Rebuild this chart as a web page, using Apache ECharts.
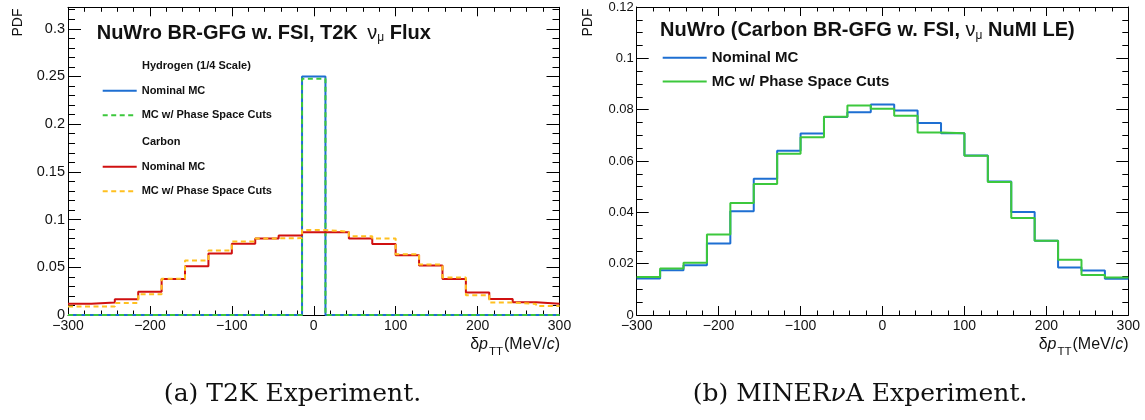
<!DOCTYPE html>
<html>
<head>
<meta charset="utf-8">
<script src="https://cdn.jsdelivr.net/npm/echarts@6/dist/echarts.min.js"></script>
<style>
  html, body { margin: 0; padding: 0; background: #ffffff; }
  #chart { width: 1145px; height: 420px; }
</style>
</head>
<body>
<div id="chart"></div>
<script>
// δp_TT histograms: 21 equal bins over [-300, 300] MeV/c
const xRange = [-300, 300];

// T2K flux, NuWro BR-GFG with FSI
const t2kHydrogenNominal = [0, 0, 0, 0, 0, 0, 0, 0, 0, 0, 0.2500, 0, 0, 0, 0, 0, 0, 0, 0, 0, 0];
const t2kHydrogenCuts    = [0, 0, 0, 0, 0, 0, 0, 0, 0, 0, 0.2475, 0, 0, 0, 0, 0, 0, 0, 0, 0, 0];
const t2kCarbonNominal = [0.0119, 0.0130, 0.0166, 0.0243, 0.0377, 0.0510, 0.0644, 0.0746, 0.0803, 0.0834, 0.0866,
                          0.0866, 0.0803, 0.0745, 0.0627, 0.0518, 0.0377, 0.0236, 0.0169, 0.0134, 0.0119];
const t2kCarbonCuts    = [0.0088, 0.0088, 0.0127, 0.0218, 0.0380, 0.0570, 0.0676, 0.0771, 0.0803, 0.0806, 0.0890,
                          0.0873, 0.0825, 0.0803, 0.0638, 0.0530, 0.0394, 0.0208, 0.0130, 0.0116, 0.0095];

// NuMI LE flux, carbon
const minervaNominal = [0.0142, 0.0174, 0.0194, 0.0279, 0.0404, 0.0531, 0.0640, 0.0707, 0.0771, 0.0790, 0.0820,
                        0.0797, 0.0748, 0.0708, 0.0621, 0.0520, 0.0401, 0.0289, 0.0185, 0.0173, 0.0141];
const minervaCuts    = [0.0148, 0.0181, 0.0204, 0.0314, 0.0436, 0.0510, 0.0628, 0.0693, 0.0772, 0.0816, 0.0804,
                        0.0776, 0.0711, 0.0708, 0.0620, 0.0518, 0.0378, 0.0289, 0.0215, 0.0156, 0.0146];

const SANS = '"Liberation Sans", Arial, Helvetica, sans-serif';
const SERIF = '"DejaVu Serif", serif';
const INK = '#111111';
const BLUE = '#1e6fd2';
const GREEN = '#3cc83c';
const RED = '#d01010';
const ORANGE = '#ffc020';

// bin left edges plus the closing edge, drawn as a step outline
function histPoints(vals) {
  const w = (xRange[1] - xRange[0]) / vals.length;
  const pts = vals.map((v, i) => [xRange[0] + i * w, v]);
  pts.push([xRange[1], vals[vals.length - 1]]);
  return pts;
}

const minus = v => String(v).replace('-', '\u2212');
const blackLine = { color: '#000', width: 1 };

function xAxes(gridIndex, fontSize) {
  const base = {
    type: 'value', gridIndex, min: xRange[0], max: xRange[1], interval: 100,
    axisLine: { show: true, onZero: false, lineStyle: blackLine },
    axisTick: { show: true, inside: true, length: 9, lineStyle: blackLine },
    minorTick: { show: true, splitNumber: 5, length: 4.5, lineStyle: blackLine },
    splitLine: { show: false }, minorSplitLine: { show: false }
  };
  return [
    Object.assign({}, base, {
      position: 'bottom',
      axisLabel: { show: true, fontFamily: SANS, fontSize, color: INK, margin: 4, formatter: minus }
    }),
    Object.assign({}, base, { position: 'top', axisLabel: { show: false } })
  ];
}

function yAxis(gridIndex, position, max, interval, tickLen, labelSize, showLine) {
  return {
    type: 'value', gridIndex, position, min: 0, max, interval,
    axisLine: { show: showLine, onZero: false, lineStyle: blackLine },
    axisTick: { show: true, inside: true, length: tickLen, lineStyle: blackLine },
    splitLine: { show: false },
    axisLabel: labelSize ? {
      show: true, fontFamily: SANS, fontSize: labelSize, color: INK, margin: 3,
      showMaxLabel: max % interval < 1e-9 || interval - (max % interval) < 1e-9,
      formatter: v => (v === 0 ? '0' : String(+v.toFixed(3)))
    } : { show: false }
  };
}

function histSeries(name, vals, color, dashed, xi, yi, z) {
  return {
    type: 'line', name, data: histPoints(vals), xAxisIndex: xi, yAxisIndex: yi,
    step: 'end', symbol: 'none', showSymbol: false, silent: true, animation: false, z,
    lineStyle: { color, width: 2, type: dashed ? [5, 3.5] : 'solid' },
    itemStyle: { color }
  };
}

const T2K_YMAX = 0.3225;
const MINERVA_YMAX = 0.12;

const chart = echarts.init(document.getElementById('chart'), null, { renderer: 'canvas' });

const legendText = (size) => ({ fontFamily: SANS, fontWeight: 'bold', fontSize: size, color: INK, lineHeight: 14 });
const stripPrefix = name => name.replace(/^[A-Z]+ /, '');
// legend keys are plain line samples, no marker
const legendBase = {
  orient: 'vertical', padding: 0, itemHeight: 14, selectedMode: false,
  itemStyle: { opacity: 0, borderWidth: 0 }, formatter: stripPrefix
};

chart.setOption({
  animation: false,
  backgroundColor: '#ffffff',
  grid: [
    { left: 68, right: 585.5, top: 7.3, bottom: 105, containLabel: false },
    { left: 636.7, right: 16.7, top: 7, bottom: 105, containLabel: false }
  ],
  xAxis: [].concat(xAxes(0, 14), xAxes(1, 14)),
  yAxis: [
    yAxis(0, 'left', T2K_YMAX, 0.05, 13, 14.5, true),
    yAxis(0, 'left', T2K_YMAX, 0.01, 7, 0, false),
    yAxis(0, 'right', T2K_YMAX, 0.05, 13, 0, true),
    yAxis(0, 'right', T2K_YMAX, 0.01, 7, 0, false),
    yAxis(1, 'left', MINERVA_YMAX, 0.02, 12, 13, true),
    yAxis(1, 'left', MINERVA_YMAX, 0.005, 6, 0, false),
    yAxis(1, 'right', MINERVA_YMAX, 0.02, 12, 0, true),
    yAxis(1, 'right', MINERVA_YMAX, 0.005, 6, 0, false)
  ],
  legend: [
    Object.assign({}, legendBase, {
      data: ['H Nominal MC', 'H MC w/ Phase Space Cuts'],
      left: 101.7, top: 83.7, itemGap: 10.6, itemWidth: 34, textStyle: legendText(11)
    }),
    Object.assign({}, legendBase, {
      data: ['C Nominal MC', 'C MC w/ Phase Space Cuts'],
      left: 101.7, top: 159.7, itemGap: 10.6, itemWidth: 34, textStyle: legendText(11)
    }),
    Object.assign({}, legendBase, {
      data: ['N Nominal MC', 'N MC w/ Phase Space Cuts'],
      left: 661.7, top: 50.3, itemGap: 8.7, itemWidth: 44, textStyle: legendText(15)
    })
  ],
  series: [
    histSeries('H Nominal MC', t2kHydrogenNominal, BLUE, false, 0, 0, 2),
    histSeries('H MC w/ Phase Space Cuts', t2kHydrogenCuts, GREEN, true, 0, 0, 3),
    histSeries('C Nominal MC', t2kCarbonNominal, RED, false, 0, 0, 4),
    histSeries('C MC w/ Phase Space Cuts', t2kCarbonCuts, ORANGE, true, 0, 0, 5),
    histSeries('N Nominal MC', minervaNominal, BLUE, false, 2, 4, 2),
    histSeries('N MC w/ Phase Space Cuts', minervaCuts, GREEN, false, 2, 4, 3)
  ],
  graphic: [
    // panel titles
    {
      type: 'text', x: 96.7, y: 33.3, silent: true,
      style: {
        text: '{b|NuWro BR-GFG w. FSI, T2K }{g|ν}{s|μ}{b| Flux}',
        verticalAlign: 'middle', fill: INK,
        rich: {
          b: { fontFamily: SANS, fontWeight: 'bold', fontSize: 20 },
          g: { fontFamily: SANS, fontSize: 20, padding: [0, 0, 0, 4] },
          s: { fontFamily: SANS, fontSize: 12, padding: [9, 0, 0, 0] }
        }
      }
    },
    {
      type: 'text', x: 660, y: 30.7, silent: true,
      style: {
        text: '{b|NuWro (Carbon BR-GFG w. FSI, }{g|ν}{s|μ}{b| NuMI LE)}',
        verticalAlign: 'middle', fill: INK,
        rich: {
          b: { fontFamily: SANS, fontWeight: 'bold', fontSize: 20 },
          g: { fontFamily: SANS, fontSize: 20 },
          s: { fontFamily: SANS, fontSize: 12, padding: [9, 0, 0, 0] }
        }
      }
    },
    // legend group headers
    {
      type: 'text', x: 142, y: 65.7, silent: true,
      style: { text: 'Hydrogen (1/4 Scale)', fontFamily: SANS, fontWeight: 'bold', fontSize: 11, fill: INK, verticalAlign: 'middle' }
    },
    {
      type: 'text', x: 142, y: 142.3, silent: true,
      style: { text: 'Carbon', fontFamily: SANS, fontWeight: 'bold', fontSize: 11, fill: INK, verticalAlign: 'middle' }
    },
    // y-axis titles
    {
      type: 'text', x: 18, y: 22.5, rotation: Math.PI / 2, silent: true,
      style: { text: 'PDF', fontFamily: SANS, fontSize: 14, fill: INK, align: 'center', verticalAlign: 'middle' }
    },
    {
      type: 'text', x: 588, y: 22.5, rotation: Math.PI / 2, silent: true,
      style: { text: 'PDF', fontFamily: SANS, fontSize: 14, fill: INK, align: 'center', verticalAlign: 'middle' }
    },
    // x-axis titles
    {
      type: 'text', x: 560, y: 345, silent: true,
      style: {
        text: '{n|δ}{i|p}{s|TT}{n|(MeV/}{i|c}{n|)}', align: 'right', verticalAlign: 'middle', fill: INK,
        rich: {
          n: { fontFamily: SANS, fontSize: 16 },
          i: { fontFamily: SANS, fontSize: 16, fontStyle: 'italic' },
          s: { fontFamily: SANS, fontSize: 11.5, padding: [14, 1, 0, 1] }
        }
      }
    },
    {
      type: 'text', x: 1128.5, y: 345, silent: true,
      style: {
        text: '{n|δ}{i|p}{s|TT}{n|(MeV/}{i|c}{n|)}', align: 'right', verticalAlign: 'middle', fill: INK,
        rich: {
          n: { fontFamily: SANS, fontSize: 16 },
          i: { fontFamily: SANS, fontSize: 16, fontStyle: 'italic' },
          s: { fontFamily: SANS, fontSize: 11.5, padding: [14, 1, 0, 1] }
        }
      }
    },
    // sub-figure captions
    {
      type: 'text', x: 292.5, y: 394, silent: true,
      style: { text: '(a) T2K Experiment.', fontFamily: SERIF, fontSize: 25, fill: INK, align: 'center', verticalAlign: 'middle' }
    },
    {
      type: 'text', x: 692.7, y: 394, silent: true,
      style: {
        text: '{n|(b) MINER}{i|ν}{n|A Experiment.}', align: 'left', verticalAlign: 'middle', fill: INK,
        rich: {
          n: { fontFamily: SERIF, fontSize: 25 },
          i: { fontFamily: SERIF, fontSize: 25, fontStyle: 'italic' }
        }
      }
    }
  ]
});
</script>
</body>
</html>
